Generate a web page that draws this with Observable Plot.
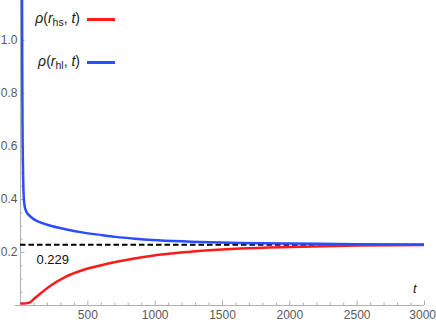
<!DOCTYPE html>
<html><head><meta charset="utf-8">
<script src="https://cdn.jsdelivr.net/npm/d3@7"></script>
<script src="https://cdn.jsdelivr.net/npm/@observablehq/plot@0.6"></script>
<style>
html,body{margin:0;padding:0;background:#fff;}
#wrap{position:relative;width:436px;height:327px;overflow:hidden;background:#fff;}
.legtxt{position:absolute;font-family:"Liberation Sans",Arial,sans-serif;font-size:14px;color:#1a1a1a;white-space:nowrap;text-align:right;line-height:16px;}
.legtxt sub{font-size:10.5px;font-style:normal;vertical-align:-3px;line-height:0;}
.legsw{position:absolute;height:3px;}
</style></head><body><div id="wrap"></div>
<script>
// Series: rho(r_hl, t) (blue)
const tBlue = [9, 11, 12, 13, 14, 15, 16, 18, 20, 24, 30, 40, 55, 80, 110, 150, 210, 334, 458, 600, 706, 850, 978, 1263, 1634, 2006, 2500, 3000];
const vBlue = [1.35, 1.2, 1.06, 0.9, 0.78, 0.68, 0.61, 0.53, 0.47, 0.41, 0.378, 0.358, 0.345, 0.333, 0.322, 0.313, 0.303, 0.288, 0.276, 0.266, 0.259, 0.252, 0.247, 0.241, 0.236, 0.234, 0.231, 0.230];
// Series: rho(r_hs, t) (red)
const tRed = [6, 30, 50, 74, 100, 150, 210, 334, 458, 600, 706, 891, 978, 1263, 1634, 2006, 2500, 3000];
const vRed = [0.008, 0.008, 0.009, 0.013, 0.025, 0.046, 0.070, 0.108, 0.133, 0.152, 0.164, 0.181, 0.188, 0.203, 0.215, 0.221, 0.226, 0.228];
// Reference level
const refLevel = [0.229];
// Ticks
const xMajor = [0, 500, 1000, 1500, 2000, 2500, 3000];
const xLabels = [500, 1000, 1500, 2000, 2500];
const xLastLabel = [3000];
const xMinor = [100, 200, 300, 400, 600, 700, 800, 900, 1100, 1200, 1300, 1400, 1600, 1700, 1800, 1900, 2100, 2200, 2300, 2400, 2600, 2700, 2800, 2900];
const yMajor = [0, 0.2, 0.4, 0.6, 0.8, 1.0];
const yLabels = [0.2, 0.4, 0.6, 0.8, 1.0];
const yMinor = [0.05, 0.1, 0.15, 0.25, 0.3, 0.35, 0.45, 0.5, 0.55, 0.65, 0.7, 0.75, 0.85, 0.9, 0.95, 1.05, 1.1, 1.15];
// Legend
const seriesNames = [["hs"], ["hl"]];
const seriesColors = ["#ff1a1a", "#2a4dff"];

const blue = tBlue.map((t, i) => ({t, v: vBlue[i]}));
const red = tRed.map((t, i) => ({t, v: vRed[i]}));
const axisGray = "#b0b0b0";
const labelGray = "#5a5a5a";
const W = 436, H = 327, mL = 20, mR = 12, mT = 0, mB = 22;
const frameH = H - mT - mB, frameW = W - mL - mR;

const chart = Plot.plot({
  width: W, height: H,
  marginLeft: mL, marginRight: mR, marginTop: mT, marginBottom: mB,
  x: {domain: [0, 3000]},
  y: {domain: [0, 1.151]},
  style: {fontFamily: '"Liberation Sans", Arial, sans-serif', fontSize: "12px", background: "white"},
  marks: [
    Plot.ruleX([0], {stroke: axisGray, strokeWidth: 1}),
    Plot.ruleY([0], {stroke: axisGray, strokeWidth: 1, x1: -40, x2: 3000, clip: false}),
    // inward ticks
    Plot.tickX(xMinor, {x: d => d, stroke: axisGray, insetTop: frameH - 2.5}),
    Plot.tickX(xMajor, {x: d => d, stroke: axisGray, insetTop: frameH - 4.5}),
    Plot.tickY(yMinor, {y: d => d, stroke: axisGray, insetRight: frameW - 2.5}),
    Plot.tickY(yMajor, {y: d => d, stroke: axisGray, insetRight: frameW - 4.5}),
    Plot.axisX(xLabels, {tickSize: 0, tickPadding: 5, fill: labelGray, tickFormat: d => String(d), label: null}),
    Plot.axisX(xLastLabel, {tickSize: 0, tickPadding: 5, fill: labelGray, tickFormat: d => String(d), textAnchor: "end", dx: 11.5, label: null}),
    Plot.axisY(yLabels, {tickSize: 0, tickPadding: 3, fill: labelGray, tickFormat: d => d.toFixed(1), label: null}),
    Plot.ruleY(refLevel, {stroke: "black", strokeWidth: 2, strokeDasharray: "5.5,3"}),
    Plot.text(refLevel, {x: 0, y: d => d, text: d => d.toFixed(3), dx: 16, dy: 15, textAnchor: "start", fill: "#111", fontSize: 13}),
    Plot.line(red, {x: "t", y: "v", stroke: seriesColors[0], strokeWidth: 2.5, curve: "monotone-x", clip: true}),
    Plot.line(blue, {x: "t", y: "v", stroke: seriesColors[1], strokeWidth: 2.5, curve: "monotone-x", clip: true}),
    Plot.text(["t"], {frameAnchor: "bottom-right", dx: -8, dy: -13, text: d => d, fontStyle: "italic", fill: "#1a1a1a", fontSize: 13})
  ]
});
const wrap = document.getElementById("wrap");
wrap.appendChild(chart);

// Legend (HTML, above the SVG)
const legRows = [19, 62];
seriesNames.forEach((sub, i) => {
  const txt = document.createElement("div");
  txt.className = "legtxt";
  txt.style.right = (W - 80) + "px";
  txt.style.top = (legRows[i] - 9) + "px";
  txt.innerHTML = `<i>ρ</i>(<i>r</i><sub>${sub[0]}</sub>, <i>t</i>)`;
  wrap.appendChild(txt);
  const sw = document.createElement("div");
  sw.className = "legsw";
  sw.style.left = "87px";
  sw.style.width = "28px";
  sw.style.top = (legRows[i] - 1.5) + "px";
  sw.style.background = seriesColors[i];
  wrap.appendChild(sw);
});
</script>
</body></html>
